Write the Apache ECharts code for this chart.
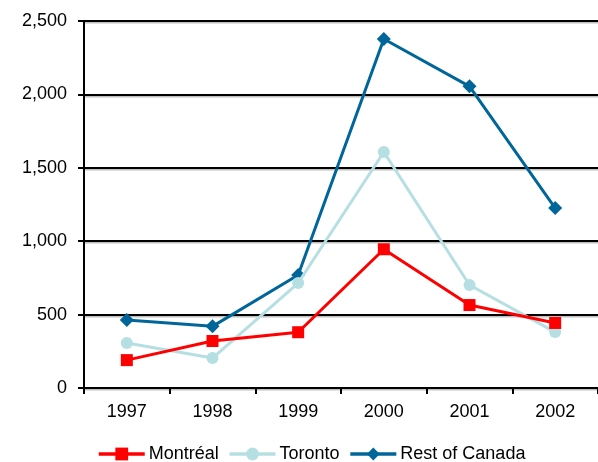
<!DOCTYPE html>
<html>
<head>
<meta charset="utf-8">
<script src="https://cdn.jsdelivr.net/npm/echarts@6/dist/echarts.min.js"></script>
<style>
  html, body { margin: 0; padding: 0; background: #fff; }
  #chart { width: 598px; height: 462px; }
</style>
</head>
<body>
<div id="chart"></div>
<script>
const years = ['1997', '1998', '1999', '2000', '2001', '2002'];
const montreal = [190, 320, 380, 945, 565, 443];
const toronto = [307, 204, 715, 1608, 702, 381];
const restOfCanada = [463, 420, 770, 2377, 2055, 1226];
const yTicks = [0, 500, 1000, 1500, 2000, 2500];

const font = 'Liberation Sans, Arial, sans-serif';
const chart = echarts.init(document.getElementById('chart'), null, { renderer: 'canvas' });

function lineSeries(name, data, color, symbol, size, z) {
  return {
    name: name,
    type: 'line',
    data: data,
    symbol: symbol,
    symbolSize: size,
    z: z,
    lineStyle: { color: color, width: 3 },
    itemStyle: { color: color },
    emphasis: { disabled: true },
    animation: false
  };
}

chart.setOption({
  animation: false,
  grid: { left: 84, right: -4, top: 21, bottom: 74 },
  legend: {
    top: 445,
    left: 97,
    padding: 0,
    itemWidth: 46,
    itemHeight: 16,
    itemGap: 9,
    lineStyle: { width: 3.5 },
    textStyle: { fontFamily: font, fontSize: 18, color: '#000', padding: [0, 0, 0, -1] },
    data: ['Montréal', 'Toronto', 'Rest of Canada']
  },
  xAxis: {
    type: 'category',
    data: years,
    boundaryGap: true,
    axisLine: { lineStyle: { color: '#000', width: 2 } },
    axisTick: { show: true, length: 6, lineStyle: { color: '#000', width: 2 } },
    axisLabel: { fontFamily: font, fontSize: 18, color: '#000', margin: 15 }
  },
  yAxis: {
    type: 'value',
    min: yTicks[0],
    max: yTicks[yTicks.length - 1],
    interval: 500,
    axisLine: { show: true, lineStyle: { color: '#000', width: 2 } },
    axisTick: { show: true, inside: false, length: 6, lineStyle: { color: '#000', width: 2 } },
    splitLine: { lineStyle: { color: '#000', width: 2, shadowColor: 'rgba(0,0,0,0.25)', shadowOffsetY: 1.5 } },
    axisLabel: {
      fontFamily: font, fontSize: 18, color: '#000', margin: 17,
      formatter: v => v.toLocaleString('en-US')
    }
  },
  series: [
    lineSeries('Montréal', montreal, '#ff0000', 'rect', 12, 4),
    lineSeries('Toronto', toronto, '#b5dfe2', 'circle', 12, 3),
    lineSeries('Rest of Canada', restOfCanada, '#006699', 'path://M0,-1L1,0L0,1L-1,0Z', 14, 2)
  ]
});
</script>
</body>
</html>
